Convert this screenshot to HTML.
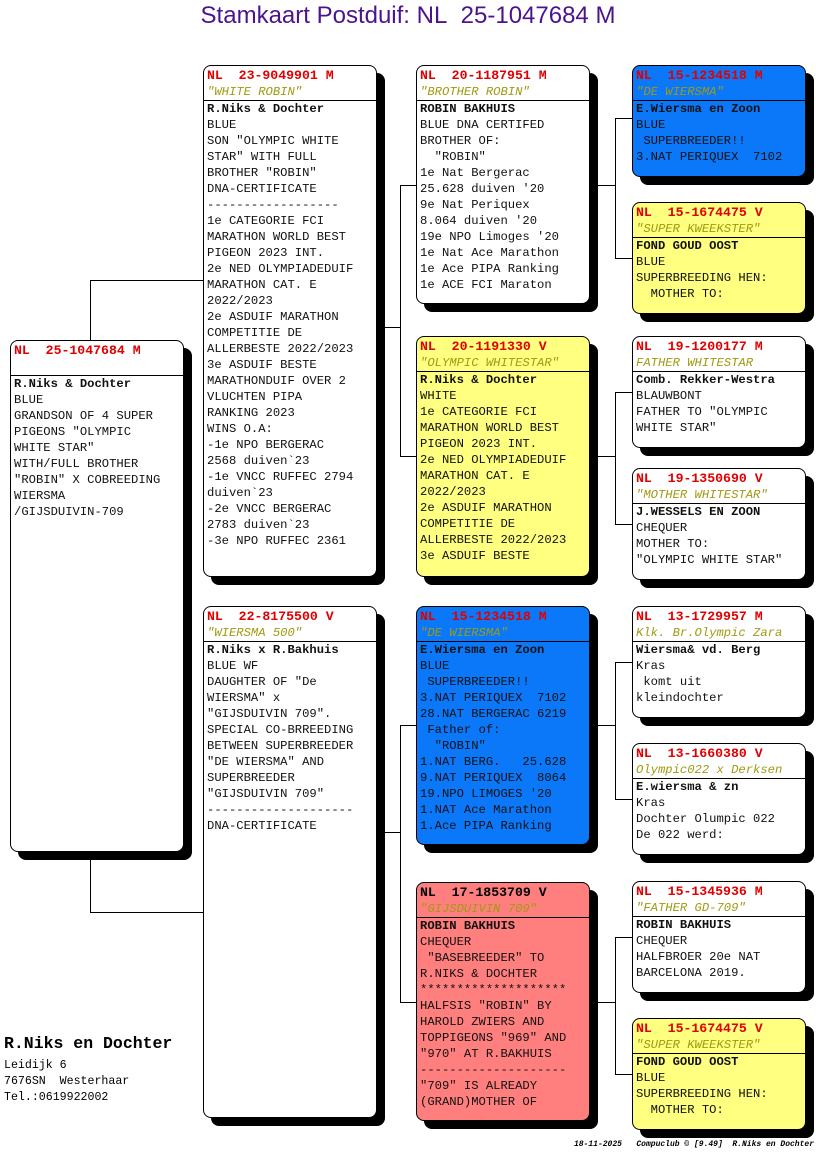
<!DOCTYPE html>
<html><head><meta charset="utf-8"><style>
body{margin:0;width:816px;height:1172px;background:#fff;position:relative;overflow:hidden;font-family:"Liberation Mono",monospace;}
.t{position:absolute;left:0;width:816px;top:2px;text-align:center;font:24px "Liberation Sans",sans-serif;color:#4b148c;}
.c{position:absolute;width:172px;border:1px solid #000;border-radius:8px;box-shadow:8px 8px 0 #000;background:#fff;box-sizing:border-box;padding-top:2px;font-size:12.2px;line-height:16px;white-space:pre;overflow:hidden;color:#111;}
.c div{padding-left:3px}
.h{color:#e00000;font-weight:bold;font-size:13.2px}
.n{color:#a09a10;font-style:italic;border-bottom:1px solid #000;}
.b{font-weight:bold}
.y{background:#ffff80}.bl{background:#0a78f8}.r{background:#ff7f7f}
.l{position:absolute;background:#000}
</style></head><body>
<div class="t">Stamkaart Postduif: NL&nbsp; 25-1047684 M</div>

<div class="l" style="left:90px;top:280px;width:1px;height:60px"></div>
<div class="l" style="left:90px;top:280px;width:113px;height:1px"></div>
<div class="l" style="left:90px;top:852px;width:1px;height:60px"></div>
<div class="l" style="left:90px;top:912px;width:113px;height:1px"></div>

<div class="l" style="left:384px;top:327px;width:16px;height:1px"></div>
<div class="l" style="left:400px;top:185px;width:1px;height:271px"></div>
<div class="l" style="left:400px;top:185px;width:16px;height:1px"></div>
<div class="l" style="left:400px;top:456px;width:16px;height:1px"></div>

<div class="l" style="left:384px;top:832px;width:16px;height:1px"></div>
<div class="l" style="left:400px;top:725px;width:1px;height:277px"></div>
<div class="l" style="left:400px;top:725px;width:16px;height:1px"></div>
<div class="l" style="left:400px;top:1002px;width:16px;height:1px"></div>

<div class="l" style="left:597px;top:185px;width:18px;height:1px"></div>
<div class="l" style="left:615px;top:118px;width:1px;height:140px"></div>
<div class="l" style="left:615px;top:118px;width:17px;height:1px"></div>
<div class="l" style="left:615px;top:258px;width:17px;height:1px"></div>

<div class="l" style="left:597px;top:456px;width:18px;height:1px"></div>
<div class="l" style="left:615px;top:392px;width:1px;height:132px"></div>
<div class="l" style="left:615px;top:392px;width:17px;height:1px"></div>
<div class="l" style="left:615px;top:524px;width:17px;height:1px"></div>

<div class="l" style="left:597px;top:725px;width:18px;height:1px"></div>
<div class="l" style="left:615px;top:662px;width:1px;height:137px"></div>
<div class="l" style="left:615px;top:662px;width:17px;height:1px"></div>
<div class="l" style="left:615px;top:799px;width:17px;height:1px"></div>

<div class="l" style="left:597px;top:1002px;width:18px;height:1px"></div>
<div class="l" style="left:615px;top:937px;width:1px;height:137px"></div>
<div class="l" style="left:615px;top:937px;width:17px;height:1px"></div>
<div class="l" style="left:615px;top:1074px;width:17px;height:1px"></div>

<div class="c" style="left:10px;top:340px;height:512px;width:174px"><div class="h">NL  25-1047684 M</div><div class="n"> </div><div class="b">R.Niks &amp; Dochter</div><div>BLUE
GRANDSON OF 4 SUPER
PIGEONS "OLYMPIC
WHITE STAR"
WITH/FULL BROTHER
"ROBIN" X COBREEDING
WIERSMA
/GIJSDUIVIN-709</div></div>

<div class="c" style="left:203px;top:65px;height:512px;width:174px"><div class="h">NL  23-9049901 M</div><div class="n">"WHITE ROBIN"</div><div class="b">R.Niks &amp; Dochter</div><div>BLUE
SON "OLYMPIC WHITE
STAR" WITH FULL
BROTHER "ROBIN"
DNA-CERTIFICATE
------------------
1e CATEGORIE FCI
MARATHON WORLD BEST
PIGEON 2023 INT.
2e NED OLYMPIADEDUIF
MARATHON CAT. E
2022/2023
2e ASDUIF MARATHON
COMPETITIE DE
ALLERBESTE 2022/2023
3e ASDUIF BESTE
MARATHONDUIF OVER 2
VLUCHTEN PIPA
RANKING 2023
WINS O.A:
-1e NPO BERGERAC
2568 duiven`23
-1e VNCC RUFFEC 2794
duiven`23
-2e VNCC BERGERAC
2783 duiven`23
-3e NPO RUFFEC 2361</div></div>

<div class="c" style="left:203px;top:606px;height:512px;width:174px"><div class="h">NL  22-8175500 V</div><div class="n">"WIERSMA 500"</div><div class="b">R.Niks x R.Bakhuis</div><div>BLUE WF
DAUGHTER OF "De
WIERSMA" x
"GIJSDUIVIN 709".
SPECIAL CO-BRREEDING
BETWEEN SUPERBREEDER
"DE WIERSMA" AND
SUPERBREEDER
"GIJSDUIVIN 709"
--------------------
DNA-CERTIFICATE</div></div>

<div class="c" style="left:416px;top:65px;height:239px;width:174px"><div class="h">NL  20-1187951 M</div><div class="n">"BROTHER ROBIN"</div><div class="b">ROBIN BAKHUIS</div><div>BLUE DNA CERTIFED
BROTHER OF:
  "ROBIN"
1e Nat Bergerac
25.628 duiven '20
9e Nat Periquex
8.064 duiven '20
19e NPO Limoges '20
1e Nat Ace Marathon
1e Ace PIPA Ranking
1e ACE FCI Maraton</div></div>

<div class="c y" style="left:416px;top:336px;height:241px;width:174px"><div class="h">NL  20-1191330 V</div><div class="n">"OLYMPIC WHITESTAR"</div><div class="b">R.Niks &amp; Dochter</div><div>WHITE
1e CATEGORIE FCI
MARATHON WORLD BEST
PIGEON 2023 INT.
2e NED OLYMPIADEDUIF
MARATHON CAT. E
2022/2023
2e ASDUIF MARATHON
COMPETITIE DE
ALLERBESTE 2022/2023
3e ASDUIF BESTE</div></div>

<div class="c bl" style="left:416px;top:606px;height:239px;width:174px"><div class="h">NL  15-1234518 M</div><div class="n">"DE WIERSMA"</div><div class="b">E.Wiersma en Zoon</div><div>BLUE
 SUPERBREEDER!!
3.NAT PERIQUEX  7102
28.NAT BERGERAC 6219
 Father of:
  "ROBIN"
1.NAT BERG.   25.628
9.NAT PERIQUEX  8064
19.NPO LIMOGES '20
1.NAT Ace Marathon
1.Ace PIPA Ranking</div></div>

<div class="c r" style="left:416px;top:882px;height:239px;width:174px"><div class="h" style="color:#000">NL  17-1853709 V</div><div class="n">"GIJSDUIVIN 709"</div><div class="b">ROBIN BAKHUIS</div><div>CHEQUER
 "BASEBREEDER" TO
R.NIKS &amp; DOCHTER
********************
HALFSIS "ROBIN" BY
HAROLD ZWIERS AND
TOPPIGEONS "969" AND
"970" AT R.BAKHUIS
--------------------
"709" IS ALREADY
(GRAND)MOTHER OF</div></div>

<div class="c bl" style="left:632px;top:65px;height:112px;width:174px"><div class="h">NL  15-1234518 M</div><div class="n">"DE WIERSMA"</div><div class="b">E.Wiersma en Zoon</div><div>BLUE
 SUPERBREEDER!!
3.NAT PERIQUEX  7102</div></div>

<div class="c y" style="left:632px;top:202px;height:112px;width:174px"><div class="h">NL  15-1674475 V</div><div class="n">"SUPER KWEEKSTER"</div><div class="b">FOND GOUD OOST</div><div>BLUE
SUPERBREEDING HEN:
  MOTHER TO:</div></div>

<div class="c" style="left:632px;top:336px;height:112px;width:174px"><div class="h">NL  19-1200177 M</div><div class="n">FATHER WHITESTAR</div><div class="b">Comb. Rekker-Westra</div><div>BLAUWBONT
FATHER TO "OLYMPIC
WHITE STAR"</div></div>

<div class="c" style="left:632px;top:468px;height:112px;width:174px"><div class="h">NL  19-1350690 V</div><div class="n">"MOTHER WHITESTAR"</div><div class="b">J.WESSELS EN ZOON</div><div>CHEQUER
MOTHER TO:
"OLYMPIC WHITE STAR"</div></div>

<div class="c" style="left:632px;top:606px;height:112px;width:174px"><div class="h">NL  13-1729957 M</div><div class="n">Klk. Br.Olympic Zara</div><div class="b">Wiersma&amp; vd. Berg</div><div>Kras
 komt uit
kleindochter</div></div>

<div class="c" style="left:632px;top:743px;height:112px;width:174px"><div class="h">NL  13-1660380 V</div><div class="n">Olympic022 x Derksen</div><div class="b">E.wiersma &amp; zn</div><div>Kras
Dochter Olumpic 022
De 022 werd:</div></div>

<div class="c" style="left:632px;top:881px;height:112px;width:174px"><div class="h">NL  15-1345936 M</div><div class="n">"FATHER GD-709"</div><div class="b">ROBIN BAKHUIS</div><div>CHEQUER
HALFBROER 20e NAT
BARCELONA 2019.</div></div>

<div class="c y" style="left:632px;top:1018px;height:112px;width:174px"><div class="h">NL  15-1674475 V</div><div class="n">"SUPER KWEEKSTER"</div><div class="b">FOND GOUD OOST</div><div>BLUE
SUPERBREEDING HEN:
  MOTHER TO:</div></div>

<div style="position:absolute;left:4px;top:1034px;font-weight:bold;font-size:16.5px;white-space:pre">R.Niks en Dochter</div>
<div style="position:absolute;left:4px;top:1058px;font-size:11.6px;line-height:16px;white-space:pre">Leidijk 6
7676SN  Westerhaar
Tel.:0619922002</div>
<div style="position:absolute;right:2px;top:1140px;font:italic bold 8px 'Liberation Mono',monospace;white-space:pre">18-11-2025   Compuclub © [9.49]  R.Niks en Dochter</div>
</body></html>
